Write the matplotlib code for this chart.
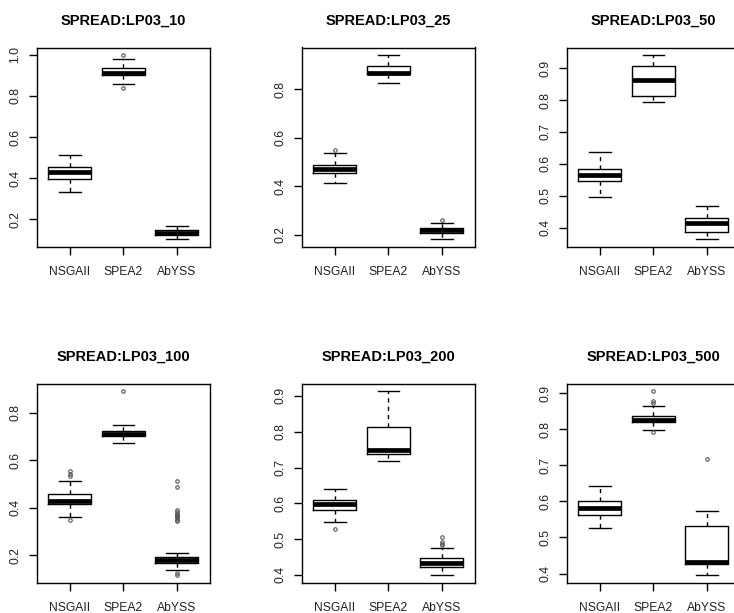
import matplotlib
matplotlib.use("Agg")
import matplotlib.pyplot as plt

algorithms = ["NSGAII", "SPEA2", "AbYSS"]

# five-number summaries per algorithm: [whisker low, q1, median, q3, whisker high]
lp03_10 = [[0.333, 0.398, 0.432, 0.455, 0.513],
           [0.856, 0.903, 0.912, 0.935, 0.982],
           [0.102, 0.125, 0.135, 0.146, 0.167]]
lp03_10_out = [[], [1.000, 0.838], []]

lp03_25 = [[0.415, 0.455, 0.473, 0.490, 0.537],
           [0.825, 0.862, 0.870, 0.898, 0.943],
           [0.181, 0.208, 0.218, 0.228, 0.250]]
lp03_25_out = [[0.548], [], [0.261]]

lp03_50 = [[0.496, 0.545, 0.566, 0.584, 0.637],
           [0.793, 0.812, 0.864, 0.907, 0.942],
           [0.363, 0.385, 0.415, 0.429, 0.467]]
lp03_50_out = [[], [], []]

lp03_100 = [[0.363, 0.414, 0.430, 0.459, 0.512],
            [0.672, 0.702, 0.709, 0.723, 0.747],
            [0.137, 0.168, 0.179, 0.192, 0.210]]
lp03_100_out = [[0.554, 0.542, 0.532, 0.349],
                [0.891],
                [0.512, 0.488, 0.390, 0.382, 0.375, 0.370, 0.365, 0.360,
                 0.355, 0.350, 0.345, 0.126, 0.116]]

lp03_200 = [[0.547, 0.580, 0.599, 0.610, 0.639],
            [0.718, 0.739, 0.749, 0.814, 0.914],
            [0.399, 0.421, 0.433, 0.446, 0.475]]
lp03_200_out = [[0.529], [], [0.507, 0.492, 0.487, 0.485]]

lp03_500 = [[0.527, 0.563, 0.581, 0.600, 0.642],
            [0.799, 0.821, 0.827, 0.838, 0.864],
            [0.395, 0.426, 0.431, 0.533, 0.573]]
lp03_500_out = [[], [0.907, 0.879, 0.873, 0.792], [0.718]]

titles = ["SPREAD:LP03_10", "SPREAD:LP03_25", "SPREAD:LP03_50",
          "SPREAD:LP03_100", "SPREAD:LP03_200", "SPREAD:LP03_500"]
summaries = [lp03_10, lp03_25, lp03_50, lp03_100, lp03_200, lp03_500]
outliers = [lp03_10_out, lp03_25_out, lp03_50_out,
            lp03_100_out, lp03_200_out, lp03_500_out]
yticks = [[0.2, 0.4, 0.6, 0.8, 1.0],
          [0.2, 0.4, 0.6, 0.8],
          [0.4, 0.5, 0.6, 0.7, 0.8, 0.9],
          [0.2, 0.4, 0.6, 0.8],
          [0.4, 0.5, 0.6, 0.7, 0.8, 0.9],
          [0.4, 0.5, 0.6, 0.7, 0.8, 0.9]]

plt.rcParams["font.family"] = ["Liberation Sans", "DejaVu Sans"]

fig = plt.figure(figsize=(7.34, 6.13), dpi=100)

W, H = 734.0, 613.0
lefts = [36.7, 301.7, 566.7]
bottoms = [246.7, 582.7]
aw, ah = 173.3, 199.2

for k in range(6):
    row, col = divmod(k, 3)
    ax = fig.add_axes([lefts[col] / W, 1 - bottoms[row] / H, aw / W, ah / H])

    stats = []
    for name, s, fl in zip(algorithms, summaries[k], outliers[k]):
        stats.append(dict(label=name, whislo=s[0], q1=s[1], med=s[2],
                          q3=s[3], whishi=s[4], fliers=fl))

    ax.bxp(stats, positions=[1, 2, 3], widths=0.8,
           boxprops=dict(color="black", linewidth=1.0),
           medianprops=dict(color="black", linewidth=3.4, solid_capstyle="butt"),
           whiskerprops=dict(color="black", linewidth=1.0, linestyle=(0, (3, 3))),
           capprops=dict(color="black", linewidth=1.0),
           capwidths=0.4,
           flierprops=dict(marker="o", markersize=2.5, markerfacecolor="none",
                           markeredgecolor="#555555", markeredgewidth=0.8))

    # R-style 4% padding on both axes
    vals = [v for s in summaries[k] for v in s] + [v for fl in outliers[k] for v in fl]
    lo, hi = min(vals), max(vals)
    pad = 0.04 * (hi - lo)
    ax.set_ylim(lo - pad, hi + pad)
    ax.set_xlim(0.38, 3.62)

    ax.set_yticks(yticks[k])
    ax.set_yticklabels([f"{t:.1f}" for t in yticks[k]], rotation=90, va="center")
    ax.set_xticks([1, 2, 3])
    ax.set_xticklabels(algorithms)
    ax.tick_params(axis="both", direction="out", length=6, width=1.0,
                   labelsize=8.7, labelcolor="#222222")
    ax.tick_params(axis="x", pad=8)
    ax.tick_params(axis="y", pad=5)
    for sp in ax.spines.values():
        sp.set_linewidth(1.0)

    ax.set_title(titles[k], fontsize=10.5, fontweight="bold", pad=16.5)

fig.savefig("out.png", dpi=100)
